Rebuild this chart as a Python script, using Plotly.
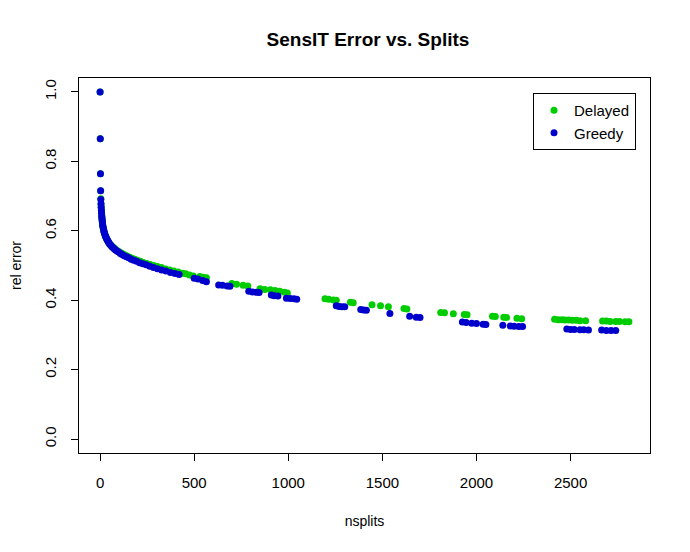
import plotly.graph_objects as go

# Delayed (green) splits vs relative error
delayed_nsplits = [0, 1, 2, 3, 4, 5, 6, 7, 8, 9, 10, 11, 12, 13, 15, 17, 19, 21, 24, 27,
                   30, 33, 37, 41, 45, 50, 55, 60, 66, 72, 79, 86, 94, 103, 112, 122, 133, 145, 157, 170,
                   184, 198, 214, 230, 248, 266, 285, 305, 326, 348, 370, 392, 415, 438, 455, 475, 495, 530, 548, 565,
                   700, 725, 760, 785, 850, 875, 905, 930, 955, 980, 995, 1195, 1215, 1240, 1255, 1330, 1345, 1445, 1490, 1532,
                   1615, 1630, 1810, 1830, 1877, 1935, 1950, 2085, 2100, 2145, 2160, 2215, 2240, 2415, 2435, 2455, 2470, 2490, 2510, 2530,
                   2550, 2580, 2670, 2690, 2710, 2740, 2760, 2790, 2810]
delayed_error = [1.0, 0.865, 0.764, 0.715, 0.692, 0.676, 0.668, 0.659, 0.650, 0.643, 0.637, 0.631, 0.626, 0.621, 0.613, 0.607, 0.602, 0.597, 0.592, 0.587,
                 0.583, 0.579, 0.575, 0.571, 0.567, 0.563, 0.560, 0.557, 0.554, 0.551, 0.548, 0.545, 0.542, 0.539, 0.536, 0.533, 0.530, 0.527, 0.524, 0.521,
                 0.518, 0.515, 0.512, 0.509, 0.506, 0.503, 0.500, 0.497, 0.494, 0.490, 0.487, 0.484, 0.481, 0.478, 0.476, 0.473, 0.470, 0.468, 0.466, 0.465,
                 0.448, 0.446, 0.443, 0.441, 0.433, 0.431, 0.430, 0.428, 0.426, 0.423, 0.421, 0.404, 0.403, 0.401, 0.400, 0.394, 0.393, 0.387, 0.384, 0.381,
                 0.376, 0.375, 0.365, 0.364, 0.361, 0.359, 0.358, 0.354, 0.353, 0.351, 0.350, 0.348, 0.347, 0.345, 0.344, 0.344, 0.343, 0.343, 0.342, 0.342,
                 0.341, 0.341, 0.340, 0.340, 0.339, 0.339, 0.339, 0.338, 0.338]

# Greedy (blue) splits vs relative error
greedy_nsplits = [0, 1, 2, 3, 4, 5, 6, 7, 8, 9, 10, 11, 12, 13, 14, 16, 18, 20, 22, 25,
                  28, 31, 34, 38, 42, 46, 51, 56, 62, 68, 75, 82, 90, 98, 107, 117, 128, 140, 152, 165,
                  179, 194, 210, 227, 245, 264, 284, 305, 327, 350, 374, 398, 420, 500, 520, 545, 565, 630, 650, 675,
                  690, 790, 810, 830, 845, 910, 925, 945, 990, 1010, 1030, 1045, 1255, 1270, 1285, 1300, 1385, 1400, 1415, 1540,
                  1645, 1680, 1700, 1925, 1945, 1975, 2000, 2035, 2050, 2140, 2180, 2200, 2225, 2245, 2480, 2500, 2520, 2550, 2570, 2595,
                  2665, 2690, 2715, 2740]
greedy_error = [1.0, 0.865, 0.764, 0.715, 0.690, 0.678, 0.667, 0.658, 0.650, 0.642, 0.636, 0.630, 0.625, 0.620, 0.616, 0.610, 0.605, 0.600, 0.596, 0.591,
                0.586, 0.582, 0.578, 0.574, 0.570, 0.566, 0.562, 0.559, 0.555, 0.552, 0.548, 0.545, 0.542, 0.539, 0.535, 0.532, 0.528, 0.525, 0.522, 0.518,
                0.515, 0.512, 0.508, 0.505, 0.502, 0.498, 0.494, 0.491, 0.487, 0.484, 0.480, 0.477, 0.474, 0.463, 0.461, 0.457, 0.453, 0.444, 0.443, 0.441,
                0.440, 0.426, 0.424, 0.423, 0.422, 0.415, 0.413, 0.412, 0.406, 0.405, 0.404, 0.403, 0.384, 0.382, 0.381, 0.381, 0.373, 0.372, 0.371, 0.362,
                0.354, 0.351, 0.350, 0.337, 0.336, 0.334, 0.333, 0.331, 0.330, 0.328, 0.326, 0.325, 0.324, 0.324, 0.317, 0.316, 0.316, 0.315, 0.315, 0.314,
                0.314, 0.313, 0.313, 0.313]

x_ticks = [0, 500, 1000, 1500, 2000, 2500]
y_ticks = [0.0, 0.2, 0.4, 0.6, 0.8, 1.0]

fig = go.Figure()
fig.add_trace(go.Scatter(x=delayed_nsplits, y=delayed_error, mode="markers", name="Delayed",
                         marker=dict(color="#00CD00", size=7)))
fig.add_trace(go.Scatter(x=greedy_nsplits, y=greedy_error, mode="markers", name="Greedy",
                         marker=dict(color="#0000CD", size=7)))

axis_common = dict(showgrid=False, zeroline=False, showline=True, mirror=True, linecolor="black", linewidth=1,
                   ticks="outside", ticklen=7, tickcolor="black", tickfont=dict(size=15, color="black"))
fig.update_xaxes(range=[-112, 2922], tickvals=x_ticks, ticktext=[str(v) for v in x_ticks],
                 title=dict(text="nsplits", font=dict(size=14, color="black"), standoff=26),
                 ticklabelstandoff=9, **axis_common)
fig.update_yaxes(range=[-0.04, 1.04], tickvals=y_ticks, ticktext=["%.1f" % v for v in y_ticks], tickangle=-90,
                 title=dict(text="rel error", font=dict(size=14, color="black"), standoff=23),
                 ticklabelstandoff=9, **axis_common)
# the page body adds an 8px offset, so margins are shifted to line up with the reference
fig.update_layout(
    width=690, height=552,
    margin=dict(l=71, r=48, t=70, b=107, autoexpand=False),
    paper_bgcolor="white", plot_bgcolor="white",
    font=dict(family="Liberation Sans, Arial, sans-serif", color="black"),
    title=dict(text="<b>SensIT Error vs. Splits</b>", x=0.5217, xanchor="center", y=0.944, yanchor="middle",
               font=dict(size=19, color="black")),
    legend=dict(x=0.9755, y=0.96, xanchor="right", yanchor="top", bordercolor="black", borderwidth=1,
                font=dict(size=15, color="black"), itemwidth=30, tracegroupgap=0),
)
fig.write_html("out.html")
